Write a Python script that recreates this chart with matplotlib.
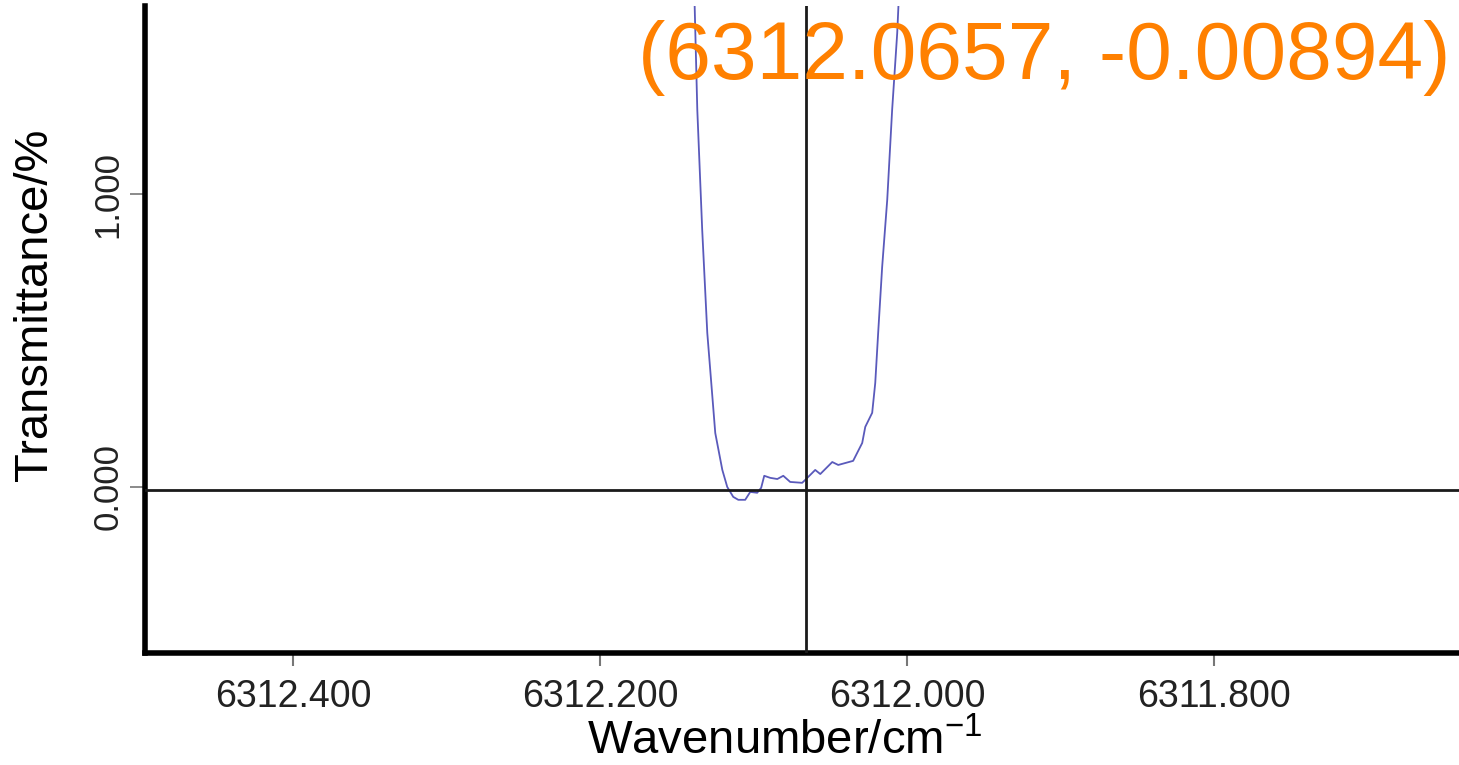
import matplotlib.pyplot as plt

plt.rcParams['font.family'] = ['Liberation Sans', 'DejaVu Sans']
plt.rcParams['mathtext.fontset'] = 'custom'
plt.rcParams['mathtext.rm'] = 'Liberation Sans'

# Spectrum trace
wavenumber = [6312.1387, 6312.1367, 6312.1335, 6312.1302, 6312.1250, 6312.1204,
              6312.1172, 6312.1133, 6312.1100, 6312.1055, 6312.1022, 6312.0977,
              6312.0951, 6312.0931, 6312.0892, 6312.0846, 6312.0807, 6312.0762,
              6312.0684, 6312.0664, 6312.0599, 6312.0566, 6312.0488, 6312.0449,
              6312.0352, 6312.0293, 6312.0273, 6312.0228, 6312.0208, 6312.0189,
              6312.0163, 6312.0130, 6312.0098, 6312.0065, 6312.0052]
transmittance = [1.70, 1.287, 0.877, 0.526, 0.184, 0.058,
                 0.000, -0.034, -0.044, -0.044, -0.017, -0.020,
                 -0.003, 0.038, 0.031, 0.027, 0.038, 0.017,
                 0.014, 0.024, 0.058, 0.044, 0.085, 0.075,
                 0.089, 0.150, 0.205, 0.253, 0.355, 0.526,
                 0.751, 0.980, 1.287, 1.549, 1.70]

# Cursor position
cursor_x = 6312.0657
cursor_y = -0.00894

xticks = [6312.4, 6312.2, 6312.0, 6311.8]
yticks = [0.0, 1.0]

fig = plt.figure(figsize=(14.59, 7.65), dpi=100)
ax = fig.add_axes([0.0994, 0.1464, 0.9006, 0.8458])

ax.plot(wavenumber, transmittance, color='#5a5abb', lw=1.3, zorder=2)
ax.axvline(cursor_x, color='#1a1a1a', lw=2.0, zorder=3)
ax.axhline(cursor_y, color='#1a1a1a', lw=2.0, zorder=3)

ax.set_xlim(6312.4964, 6311.6406)
ax.set_ylim(-0.567, 1.642)

ax.set_xticks(xticks)
ax.set_xticklabels(['%.3f' % v for v in xticks])
ax.set_yticks(yticks)
ax.set_yticklabels(['%.3f' % v for v in yticks], rotation=90, va='center')

ax.tick_params(axis='x', length=9, width=1.5, color='#777777', labelsize=27,
               labelcolor='#222222', pad=10)
ax.tick_params(axis='y', length=11, width=1.2, color='#777777', labelsize=25,
               labelcolor='#222222', pad=4)

for side in ['top', 'right']:
    ax.spines[side].set_visible(False)
ax.spines['left'].set_linewidth(4)
ax.spines['bottom'].set_linewidth(4)

fig.text(35 / 1459, 1 - 305 / 765, 'Transmittance/%', rotation=90,
         ha='center', va='center', fontsize=34)
fig.text(785 / 1459, 1 - 742 / 765, 'Wavenumber/cm$^{-1}$',
         ha='center', va='center', fontsize=34)

fig.text(1450 / 1459, 1 - 58 / 765, '(%.4f, %.5f)' % (cursor_x, cursor_y),
         ha='right', va='center', fontsize=59, color='#ff8000')

fig.savefig('out.png', dpi=100)
